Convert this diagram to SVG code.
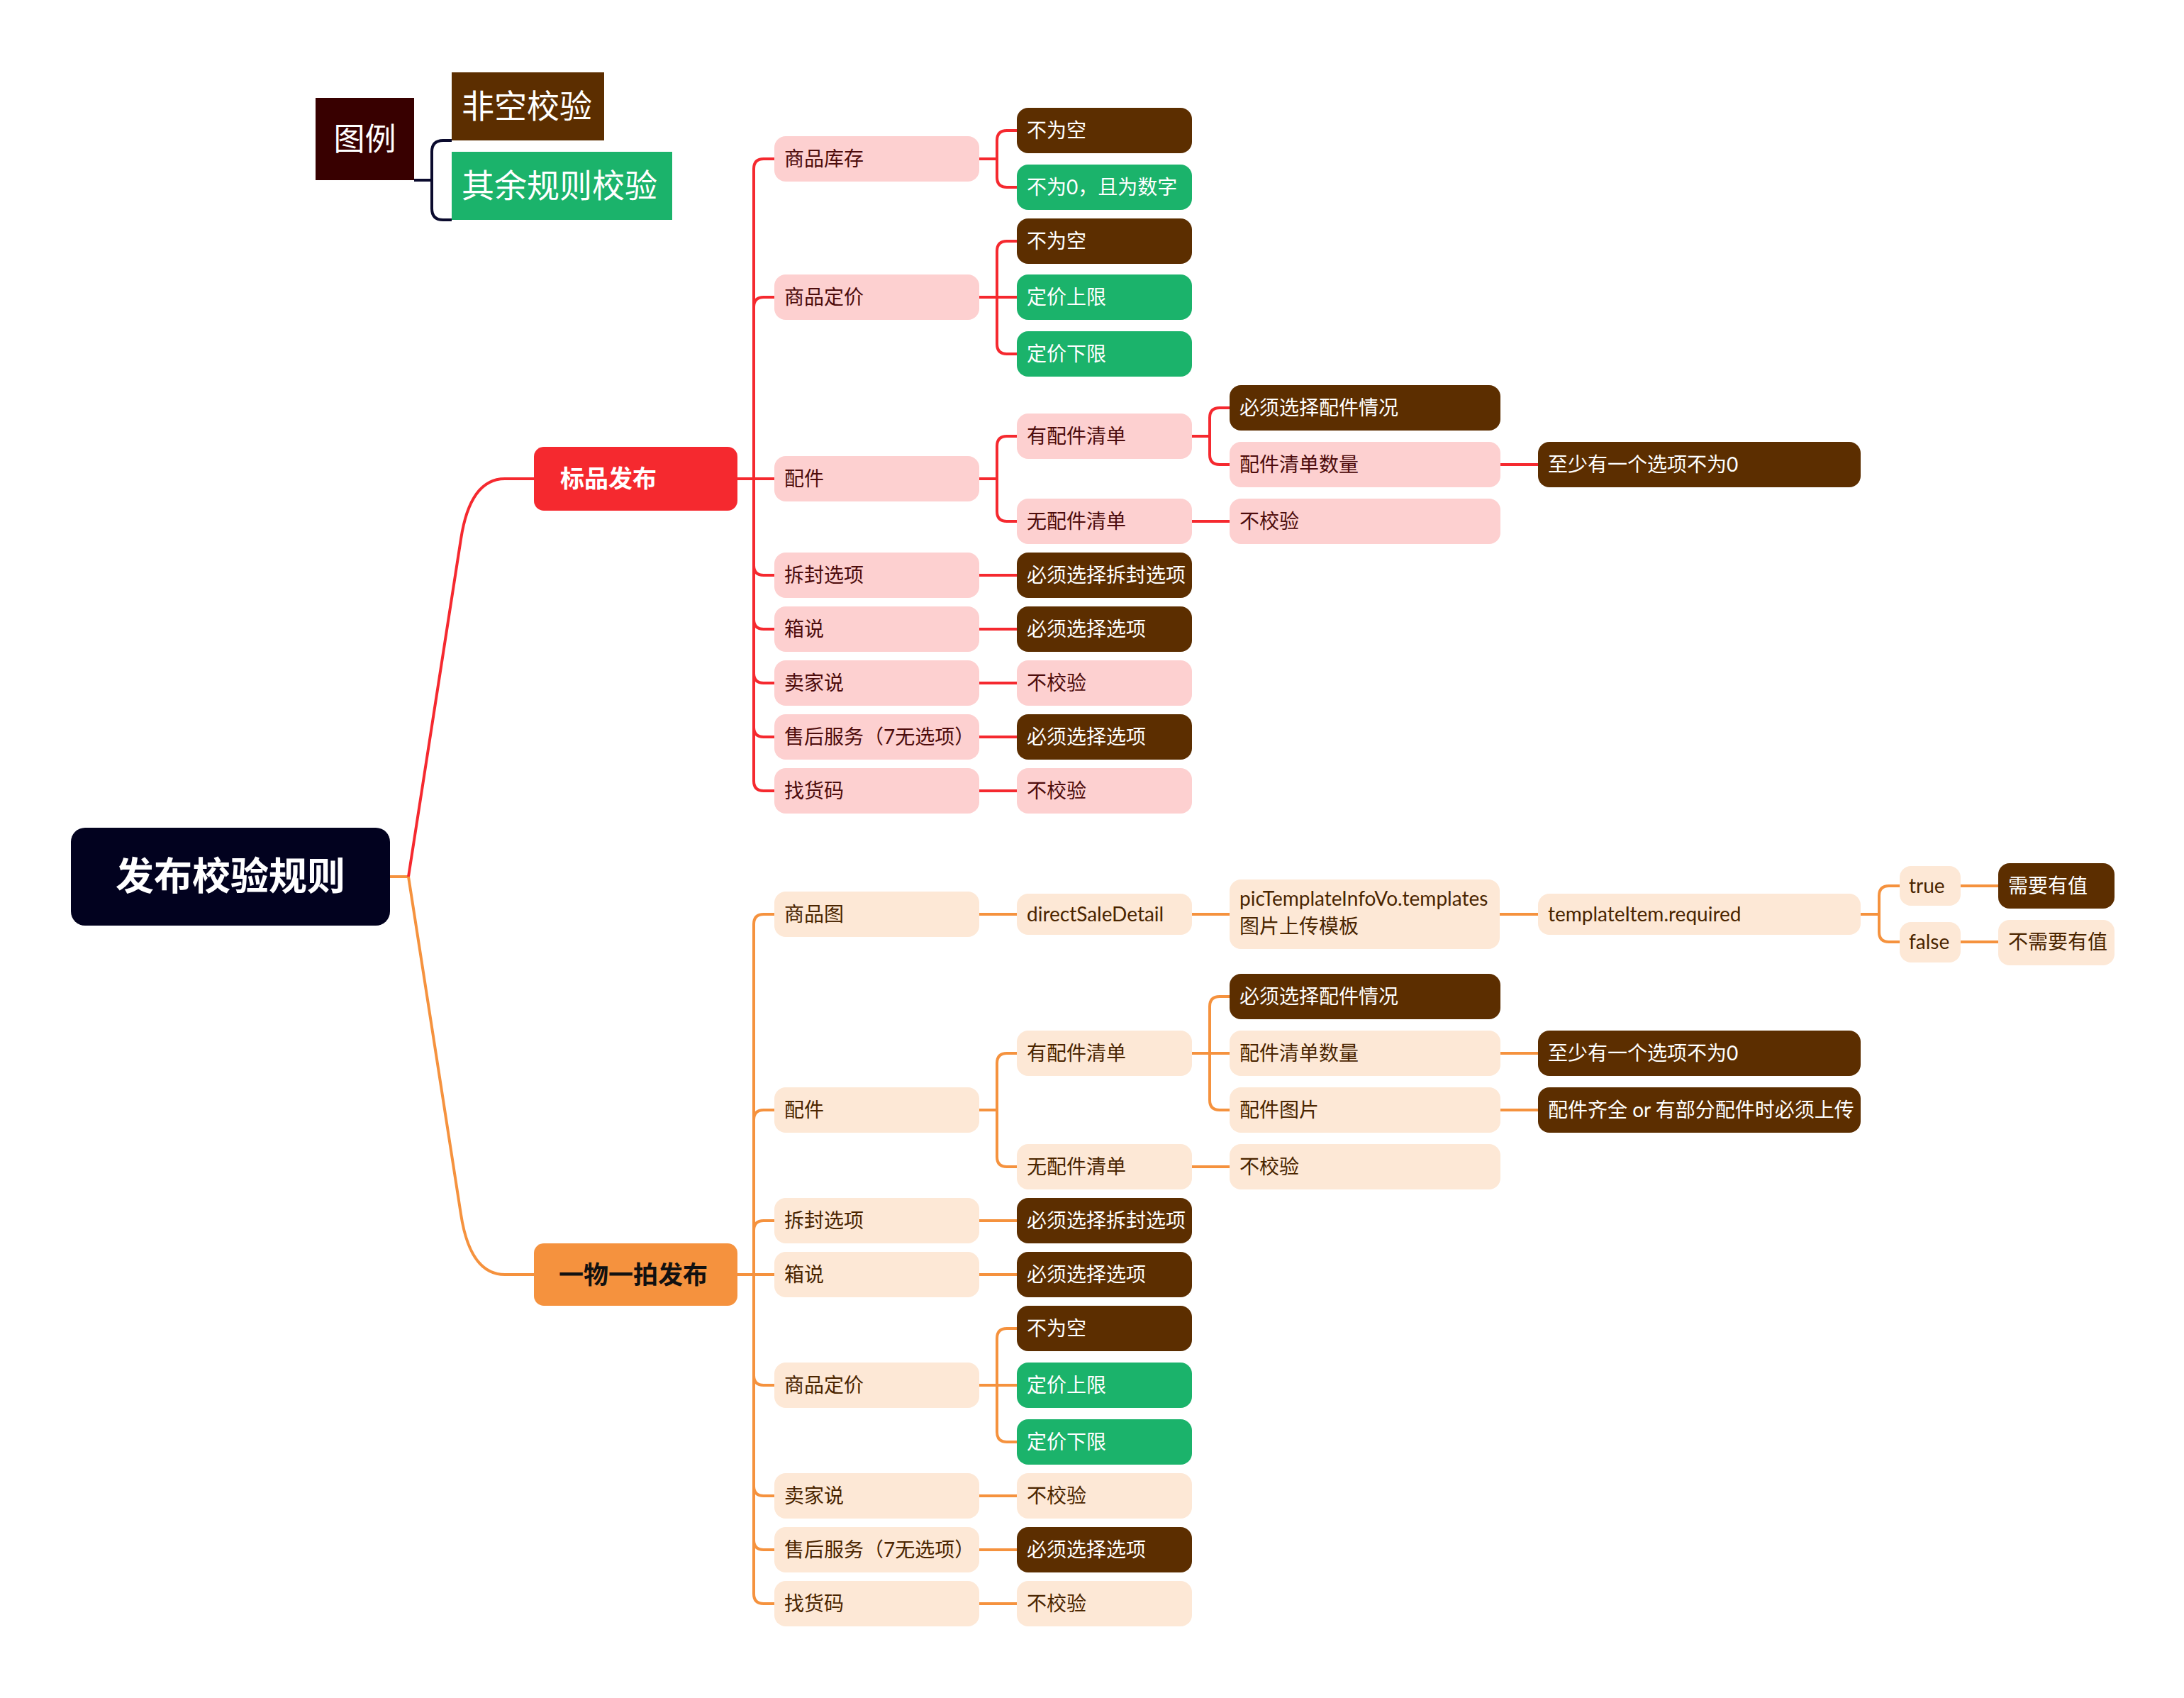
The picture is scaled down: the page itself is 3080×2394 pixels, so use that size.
<svg xmlns="http://www.w3.org/2000/svg" width="3080" height="2394" viewBox="0 0 3080 2394">
<style>
text{font-family:Lato,"Noto Sans CJK SC",sans-serif;font-size:28px}
.brown{fill:#5c2e00}
.green{fill:#1bb36b}
.pink{fill:#fdd0d0}
.peach{fill:#fde8d6}
.tw{fill:#ffffff}
.tr{fill:#4d0c0c}
.to{fill:#4a2500}
.cr{fill:none;stroke:#f5292f;stroke-width:4}
.co{fill:none;stroke:#f5923e;stroke-width:4}
.cl{fill:none;stroke:#0b0b2e;stroke-width:4}
</style>
<rect width="3080" height="2394" fill="#ffffff"/>
<g id="connectors">
<path class="cl" d="M584 254H609M609 254V214Q609 198 625 198H637M609 254V294Q609 310 625 310H637"/>
<path class="co" d="M550 1236H576"/>
<path class="cr" d="M576 1236L650 760Q663 675 712 675H753"/>
<path class="co" d="M576 1236L650 1712Q663 1797 712 1797H753"/>
<path class="cr" d="M1040 675H1063M1063 675V238Q1063 224 1077 224H1092M1063 675V433Q1063 419 1077 419H1092M1063 675H1092M1063 675V797Q1063 811 1077 811H1092M1063 675V873Q1063 887 1077 887H1092M1063 675V949Q1063 963 1077 963H1092M1063 675V1025Q1063 1039 1077 1039H1092M1063 675V1101Q1063 1115 1077 1115H1092"/>
<path class="cr" d="M1381 224H1406M1406 224V198Q1406 184 1420 184H1434M1406 224V250Q1406 264 1420 264H1434"/>
<path class="cr" d="M1381 419H1434M1406 419V354Q1406 340 1420 340H1434M1406 419V485Q1406 499 1420 499H1434"/>
<path class="cr" d="M1381 675H1406M1406 675V629Q1406 615 1420 615H1434M1406 675V721Q1406 735 1420 735H1434"/>
<path class="cr" d="M1381 811H1434M1381 887H1434M1381 963H1434M1381 1039H1434M1381 1115H1434"/>
<path class="cr" d="M1681 615H1706M1706 615V589Q1706 575 1720 575H1734M1706 615V641Q1706 655 1720 655H1734"/>
<path class="cr" d="M1681 735H1734M2116 655H2169"/>
<path class="co" d="M1040 1797H1063M1063 1797V1303Q1063 1289 1077 1289H1092M1063 1797V1579Q1063 1565 1077 1565H1092M1063 1797V1735Q1063 1721 1077 1721H1092M1063 1797H1092M1063 1797V1939Q1063 1953 1077 1953H1092M1063 1797V2095Q1063 2109 1077 2109H1092M1063 1797V2171Q1063 2185 1077 2185H1092M1063 1797V2247Q1063 2261 1077 2261H1092"/>
<path class="co" d="M1381 1289H1434M1681 1289H1734M2115 1289H2169M2624 1289H2650M2650 1289V1263Q2650 1249 2664 1249H2679M2650 1289V1314Q2650 1328 2664 1328H2679M2765 1249H2818M2765 1328H2818"/>
<path class="co" d="M1381 1565H1406M1406 1565V1499Q1406 1485 1420 1485H1434M1406 1565V1631Q1406 1645 1420 1645H1434"/>
<path class="co" d="M1681 1485H1734M1706 1485V1419Q1706 1405 1720 1405H1734M1706 1485V1551Q1706 1565 1720 1565H1734"/>
<path class="co" d="M1681 1645H1734M2116 1485H2169M2116 1565H2169"/>
<path class="co" d="M1381 1721H1434M1381 1797H1434M1381 1953H1434M1406 1953V1887Q1406 1873 1420 1873H1434M1406 1953V2019Q1406 2033 1420 2033H1434M1381 2109H1434M1381 2185H1434M1381 2261H1434"/>
</g>
<g id="legend">
<rect x="445" y="138" width="139" height="116" fill="#380000"/>
<text x="514.5" y="212" text-anchor="middle" class="tw" style="font-size:44px">图例</text>
</g>
<g id="legend-nonempty">
<rect x="637" y="102" width="215" height="96" class="brown"/>
<text x="651" y="166" class="tw" style="font-size:46px">非空校验</text>
</g>
<g id="legend-other">
<rect x="637" y="214" width="311" height="96" class="green"/>
<text x="651" y="278" class="tw" style="font-size:46px">其余规则校验</text>
</g>
<g id="root">
<rect x="100" y="1167" width="450" height="138" rx="20" fill="#02021f"/>
<text x="325" y="1255" text-anchor="middle" class="tw" style="font-size:54px;font-weight:bold">发布校验规则</text>
</g>
<g id="n-biaopin">
<rect x="753" y="630" width="287" height="90" rx="14" fill="#f5292f"/>
<text x="790" y="687" class="tw" style="font-size:34px;font-weight:bold">标品发布</text>
</g>
<g id="n-yiwu">
<rect x="753" y="1753" width="287" height="88" rx="14" fill="#f5923e"/>
<text x="788" y="1810" fill="#111" style="font-size:35px;font-weight:bold">一物一拍发布</text>
</g>
<!-- red branch level 2 -->
<g id="r-kucun"><rect x="1092" y="192" width="289" height="64" rx="16" class="pink"/><text x="1106" y="234" class="tr">商品库存</text></g>
<g id="r-dingjia"><rect x="1092" y="387" width="289" height="64" rx="16" class="pink"/><text x="1106" y="429" class="tr">商品定价</text></g>
<g id="r-peijian"><rect x="1092" y="643" width="289" height="64" rx="16" class="pink"/><text x="1106" y="685" class="tr">配件</text></g>
<g id="r-chaifeng"><rect x="1092" y="779" width="289" height="64" rx="16" class="pink"/><text x="1106" y="821" class="tr">拆封选项</text></g>
<g id="r-xiangshuo"><rect x="1092" y="855" width="289" height="64" rx="16" class="pink"/><text x="1106" y="897" class="tr">箱说</text></g>
<g id="r-maijia"><rect x="1092" y="931" width="289" height="64" rx="16" class="pink"/><text x="1106" y="973" class="tr">卖家说</text></g>
<g id="r-shouhou"><rect x="1092" y="1007" width="289" height="64" rx="16" class="pink"/><text x="1106" y="1049" class="tr">售后服务（7无选项）</text></g>
<g id="r-zhaohuo"><rect x="1092" y="1083" width="289" height="64" rx="16" class="pink"/><text x="1106" y="1125" class="tr">找货码</text></g>
<!-- red level 3 -->
<g id="r-kucun-1"><rect x="1434" y="152" width="247" height="64" rx="16" class="brown"/><text x="1448" y="194" class="tw">不为空</text></g>
<g id="r-kucun-2"><rect x="1434" y="232" width="247" height="64" rx="16" class="green"/><text x="1448" y="274" class="tw">不为0，且为数字</text></g>
<g id="r-dingjia-1"><rect x="1434" y="308" width="247" height="64" rx="16" class="brown"/><text x="1448" y="350" class="tw">不为空</text></g>
<g id="r-dingjia-2"><rect x="1434" y="387" width="247" height="64" rx="16" class="green"/><text x="1448" y="429" class="tw">定价上限</text></g>
<g id="r-dingjia-3"><rect x="1434" y="467" width="247" height="64" rx="16" class="green"/><text x="1448" y="509" class="tw">定价下限</text></g>
<g id="r-you"><rect x="1434" y="583" width="247" height="64" rx="16" class="pink"/><text x="1448" y="625" class="tr">有配件清单</text></g>
<g id="r-wu"><rect x="1434" y="703" width="247" height="64" rx="16" class="pink"/><text x="1448" y="745" class="tr">无配件清单</text></g>
<g id="r-chaifeng-1"><rect x="1434" y="779" width="247" height="64" rx="16" class="brown"/><text x="1448" y="821" class="tw">必须选择拆封选项</text></g>
<g id="r-xiangshuo-1"><rect x="1434" y="855" width="247" height="64" rx="16" class="brown"/><text x="1448" y="897" class="tw">必须选择选项</text></g>
<g id="r-maijia-1"><rect x="1434" y="931" width="247" height="64" rx="16" class="pink"/><text x="1448" y="973" class="tr">不校验</text></g>
<g id="r-shouhou-1"><rect x="1434" y="1007" width="247" height="64" rx="16" class="brown"/><text x="1448" y="1049" class="tw">必须选择选项</text></g>
<g id="r-zhaohuo-1"><rect x="1434" y="1083" width="247" height="64" rx="16" class="pink"/><text x="1448" y="1125" class="tr">不校验</text></g>
<!-- red level 4/5 -->
<g id="r-you-1"><rect x="1734" y="543" width="382" height="64" rx="16" class="brown"/><text x="1748" y="585" class="tw">必须选择配件情况</text></g>
<g id="r-you-2"><rect x="1734" y="623" width="382" height="64" rx="16" class="pink"/><text x="1748" y="665" class="tr">配件清单数量</text></g>
<g id="r-wu-1"><rect x="1734" y="703" width="382" height="64" rx="16" class="pink"/><text x="1748" y="745" class="tr">不校验</text></g>
<g id="r-you-2-1"><rect x="2169" y="623" width="455" height="64" rx="16" class="brown"/><text x="2183" y="665" class="tw">至少有一个选项不为0</text></g>
<!-- orange level 2 -->
<g id="o-tu"><rect x="1092" y="1257" width="289" height="64" rx="16" class="peach"/><text x="1106" y="1299" class="to">商品图</text></g>
<g id="o-peijian"><rect x="1092" y="1533" width="289" height="64" rx="16" class="peach"/><text x="1106" y="1575" class="to">配件</text></g>
<g id="o-chaifeng"><rect x="1092" y="1689" width="289" height="64" rx="16" class="peach"/><text x="1106" y="1731" class="to">拆封选项</text></g>
<g id="o-xiangshuo"><rect x="1092" y="1765" width="289" height="64" rx="16" class="peach"/><text x="1106" y="1807" class="to">箱说</text></g>
<g id="o-dingjia"><rect x="1092" y="1921" width="289" height="64" rx="16" class="peach"/><text x="1106" y="1963" class="to">商品定价</text></g>
<g id="o-maijia"><rect x="1092" y="2077" width="289" height="64" rx="16" class="peach"/><text x="1106" y="2119" class="to">卖家说</text></g>
<g id="o-shouhou"><rect x="1092" y="2153" width="289" height="64" rx="16" class="peach"/><text x="1106" y="2195" class="to">售后服务（7无选项）</text></g>
<g id="o-zhaohuo"><rect x="1092" y="2229" width="289" height="64" rx="16" class="peach"/><text x="1106" y="2271" class="to">找货码</text></g>
<!-- orange level 3 -->
<g id="o-direct"><rect x="1434" y="1260" width="247" height="58" rx="16" class="peach"/><text x="1448" y="1299" class="to">directSaleDetail</text></g>
<g id="o-you"><rect x="1434" y="1453" width="247" height="64" rx="16" class="peach"/><text x="1448" y="1495" class="to">有配件清单</text></g>
<g id="o-wu"><rect x="1434" y="1613" width="247" height="64" rx="16" class="peach"/><text x="1448" y="1655" class="to">无配件清单</text></g>
<g id="o-chaifeng-1"><rect x="1434" y="1689" width="247" height="64" rx="16" class="brown"/><text x="1448" y="1731" class="tw">必须选择拆封选项</text></g>
<g id="o-xiangshuo-1"><rect x="1434" y="1765" width="247" height="64" rx="16" class="brown"/><text x="1448" y="1807" class="tw">必须选择选项</text></g>
<g id="o-dingjia-1"><rect x="1434" y="1841" width="247" height="64" rx="16" class="brown"/><text x="1448" y="1883" class="tw">不为空</text></g>
<g id="o-dingjia-2"><rect x="1434" y="1921" width="247" height="64" rx="16" class="green"/><text x="1448" y="1963" class="tw">定价上限</text></g>
<g id="o-dingjia-3"><rect x="1434" y="2001" width="247" height="64" rx="16" class="green"/><text x="1448" y="2043" class="tw">定价下限</text></g>
<g id="o-maijia-1"><rect x="1434" y="2077" width="247" height="64" rx="16" class="peach"/><text x="1448" y="2119" class="to">不校验</text></g>
<g id="o-shouhou-1"><rect x="1434" y="2153" width="247" height="64" rx="16" class="brown"/><text x="1448" y="2195" class="tw">必须选择选项</text></g>
<g id="o-zhaohuo-1"><rect x="1434" y="2229" width="247" height="64" rx="16" class="peach"/><text x="1448" y="2271" class="to">不校验</text></g>
<!-- orange level 4 -->
<g id="o-pictemplate"><rect x="1734" y="1240" width="381" height="98" rx="16" class="peach"/><text x="1748" y="1277" class="to">picTemplateInfoVo.templates</text><text x="1748" y="1316" class="to">图片上传模板</text></g>
<g id="o-you-1"><rect x="1734" y="1373" width="382" height="64" rx="16" class="brown"/><text x="1748" y="1415" class="tw">必须选择配件情况</text></g>
<g id="o-you-2"><rect x="1734" y="1453" width="382" height="64" rx="16" class="peach"/><text x="1748" y="1495" class="to">配件清单数量</text></g>
<g id="o-you-3"><rect x="1734" y="1533" width="382" height="64" rx="16" class="peach"/><text x="1748" y="1575" class="to">配件图片</text></g>
<g id="o-wu-1"><rect x="1734" y="1613" width="382" height="64" rx="16" class="peach"/><text x="1748" y="1655" class="to">不校验</text></g>
<!-- orange level 5+ -->
<g id="o-required"><rect x="2169" y="1260" width="455" height="58" rx="16" class="peach"/><text x="2183" y="1299" class="to">templateItem.required</text></g>
<g id="o-you-2-1"><rect x="2169" y="1453" width="455" height="64" rx="16" class="brown"/><text x="2183" y="1495" class="tw">至少有一个选项不为0</text></g>
<g id="o-you-3-1"><rect x="2169" y="1533" width="455" height="64" rx="16" class="brown"/><text x="2183" y="1575" class="tw">配件齐全 or 有部分配件时必须上传</text></g>
<g id="o-true"><rect x="2679" y="1221" width="86" height="56" rx="16" class="peach"/><text x="2692" y="1259" class="to">true</text></g>
<g id="o-false"><rect x="2679" y="1300" width="86" height="57" rx="16" class="peach"/><text x="2692" y="1338" class="to">false</text></g>
<g id="o-true-1"><rect x="2818" y="1217" width="164" height="64" rx="16" class="brown"/><text x="2832" y="1259" class="tw">需要有值</text></g>
<g id="o-false-1"><rect x="2818" y="1297" width="164" height="64" rx="16" class="peach"/><text x="2832" y="1338" class="to">不需要有值</text></g>
</svg>
